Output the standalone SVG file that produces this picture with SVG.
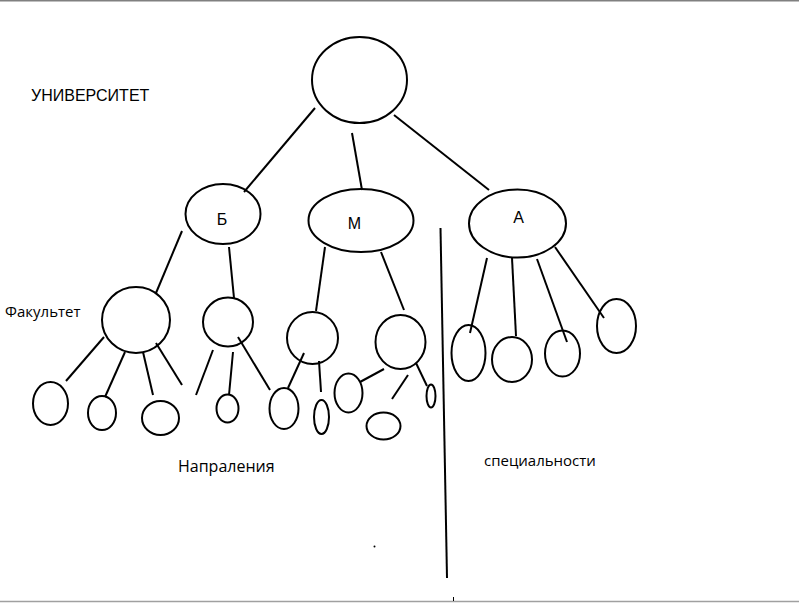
<svg xmlns="http://www.w3.org/2000/svg" width="799" height="603" viewBox="0 0 799 603">
<style>
.n{fill:none;stroke:#000;stroke-width:2}
.c line{stroke:#000;stroke-width:2;stroke-linecap:butt}
.l{font-family:"Liberation Sans",Arial,sans-serif;font-size:16px;fill:#000}
.t{font-family:"Open Sans","Noto Sans",sans-serif;font-size:15px;fill:#000}
</style>
<rect width="799" height="603" fill="#fff"/>
<line x1="0" y1="0.5" x2="799" y2="0.5" stroke="#808080" stroke-width="2"/>
<line x1="0" y1="601.5" x2="799" y2="601.5" stroke="#a0a0a0" stroke-width="1.5"/>
<line x1="453.5" y1="597" x2="453.5" y2="601" stroke="#000" stroke-width="1"/>
<circle cx="374.5" cy="546.5" r="1" fill="#000"/>
<text class="l" x="31" y="101">УНИВЕРСИТЕТ</text>
<text class="t" x="5" y="317">Факультет</text>
<text class="t" x="178" y="472" style="font-size:16px">Напраления</text>
<text class="t" x="484" y="466">специальности</text>
<g class="c" id="connectors">
<line x1="315" y1="108" x2="244" y2="192"/>
<line x1="352" y1="133" x2="362" y2="190"/>
<line x1="394" y1="115" x2="489" y2="190"/>
<line x1="182" y1="231" x2="156" y2="293"/>
<line x1="229" y1="247" x2="234" y2="298"/>
<line x1="325" y1="247" x2="316" y2="311"/>
<line x1="381" y1="252" x2="404" y2="310"/>
<line x1="487" y1="258" x2="470" y2="333"/>
<line x1="512" y1="258" x2="516" y2="336"/>
<line x1="537" y1="259" x2="567" y2="342"/>
<line x1="555" y1="247" x2="604" y2="318"/>
<line x1="104" y1="337" x2="66" y2="381"/>
<line x1="125" y1="352" x2="105" y2="397"/>
<line x1="143" y1="352" x2="153" y2="395"/>
<line x1="156" y1="343" x2="182" y2="385"/>
<line x1="213" y1="350" x2="196" y2="395"/>
<line x1="233" y1="352" x2="229" y2="395"/>
<line x1="238" y1="337" x2="270" y2="390"/>
<line x1="304" y1="353" x2="288" y2="388"/>
<line x1="319" y1="361" x2="321" y2="392"/>
<line x1="384" y1="369" x2="360" y2="382"/>
<line x1="408" y1="375" x2="392" y2="399"/>
<line x1="416" y1="363" x2="427" y2="386"/>
<line x1="440.5" y1="228" x2="447" y2="578"/>
</g>
<g id="root"><ellipse class="n" cx="359.5" cy="80" rx="47.5" ry="43"/></g>
<g id="b"><ellipse class="n" cx="223" cy="214" rx="37.5" ry="30"/><text class="l" x="222" y="225" text-anchor="middle">Б</text></g>
<g id="m"><ellipse class="n" cx="361" cy="220.5" rx="52.5" ry="31.5"/><text class="l" x="354.5" y="229" text-anchor="middle">М</text></g>
<g id="a"><ellipse class="n" cx="517.5" cy="223.5" rx="48.5" ry="34"/><text class="l" x="518.5" y="223" text-anchor="middle">А</text></g>
<g id="b1"><ellipse class="n" cx="136" cy="320" rx="34" ry="33"/></g>
<g id="b2"><ellipse class="n" cx="228" cy="322" rx="25" ry="24.5"/></g>
<g id="m1"><ellipse class="n" cx="312.5" cy="338" rx="25.5" ry="26"/></g>
<g id="m2"><ellipse class="n" cx="400.5" cy="342" rx="25" ry="27"/></g>
<g id="b11"><ellipse class="n" cx="50.5" cy="403.5" rx="17.5" ry="21.5"/></g>
<g id="b12"><ellipse class="n" cx="102" cy="413" rx="14" ry="17"/></g>
<g id="b13"><ellipse class="n" cx="160.5" cy="418" rx="18.5" ry="17"/></g>
<g id="b21"><ellipse class="n" cx="227.5" cy="408.5" rx="11" ry="14"/></g>
<g id="b22"><ellipse class="n" cx="284" cy="408.5" rx="14.5" ry="20.5"/></g>
<g id="m11"><ellipse class="n" cx="321.5" cy="417" rx="7.5" ry="17"/></g>
<g id="m21"><ellipse class="n" cx="348.5" cy="393" rx="14" ry="19.5"/></g>
<g id="m22"><ellipse class="n" cx="383.5" cy="426" rx="17" ry="13.5"/></g>
<g id="m23"><ellipse class="n" cx="431" cy="396" rx="4.5" ry="11.5"/></g>
<g id="a1"><ellipse class="n" cx="468.5" cy="353" rx="17" ry="28"/></g>
<g id="a2"><ellipse class="n" cx="512" cy="359.5" rx="20" ry="22.5"/></g>
<g id="a3"><ellipse class="n" cx="562.5" cy="353.5" rx="17.5" ry="23"/></g>
<g id="a4"><ellipse class="n" cx="616.5" cy="326" rx="19.5" ry="27"/></g>
</svg>
